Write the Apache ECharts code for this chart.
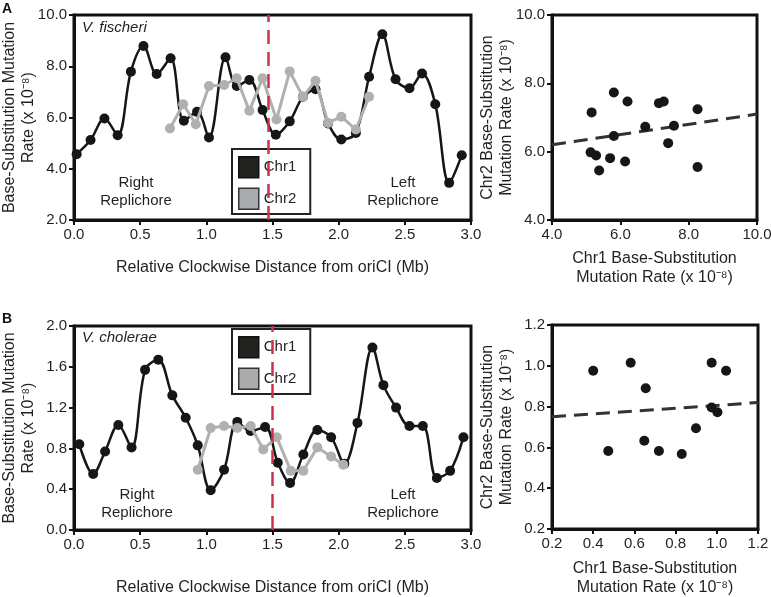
<!DOCTYPE html>
<html>
<head>
<meta charset="utf-8">
<script src="https://cdn.jsdelivr.net/npm/echarts@6/dist/echarts.min.js"></script>
<style>
html,body{margin:0;padding:0;background:#fff;}
#chart{width:771px;height:597px;}
</style>
</head>
<body>
<div id="chart"></div>
<script>
// ---------- Data ----------
const fischeriChr1Pos  = [0.02,0.125,0.23,0.33,0.43,0.525,0.625,0.73,0.83,0.93,1.02,1.145,1.23,1.325,1.425,1.525,1.63,1.73,1.825,1.92,2.02,2.13,2.23,2.33,2.43,2.535,2.63,2.73,2.835,2.93];
const fischeriChr1Rate = [4.57,5.12,5.96,5.31,7.79,8.79,7.70,8.31,5.87,6.22,5.22,8.35,7.23,7.46,6.29,5.33,5.85,6.81,7.10,5.77,5.14,5.40,7.59,9.25,7.49,7.14,7.72,6.52,3.45,4.53];
const fischeriChr2Pos  = [0.725,0.825,0.92,1.02,1.135,1.23,1.325,1.425,1.53,1.63,1.73,1.825,1.92,2.02,2.13,2.23];
const fischeriChr2Rate = [5.57,6.52,5.74,7.23,7.27,7.53,6.26,7.53,5.92,7.80,6.81,7.43,5.79,6.03,5.53,6.81];

const choleraeChr1Pos  = [0.04,0.145,0.235,0.335,0.435,0.537,0.637,0.743,0.844,0.935,1.033,1.134,1.234,1.335,1.444,1.54,1.633,1.733,1.839,1.943,2.043,2.142,2.255,2.338,2.434,2.535,2.636,2.742,2.842,2.943];
const choleraeChr1Rate = [0.84,0.55,0.77,1.03,0.81,1.57,1.67,1.32,1.10,0.83,0.39,0.59,1.06,0.97,1.01,0.66,0.46,0.74,0.98,0.91,0.65,1.05,1.79,1.42,1.20,1.02,1.02,0.51,0.58,0.91];
const choleraeChr2Pos  = [0.935,1.033,1.134,1.234,1.335,1.43,1.532,1.638,1.733,1.839,1.943,2.035];
const choleraeChr2Rate = [0.59,1.00,1.02,1.00,1.02,0.79,0.91,0.58,0.58,0.81,0.72,0.64];

const fischeriScatterChr1 = [5.16,5.13,5.29,5.38,5.70,5.81,5.81,6.14,6.21,6.73,7.13,7.27,7.40,7.57,8.26,8.26];
const fischeriScatterChr2 = [7.15,5.98,5.89,5.45,5.81,7.73,6.46,5.71,7.47,6.73,7.42,7.47,6.25,6.76,7.24,5.55];
const choleraeScatterChr1 = [0.40,0.473,0.582,0.655,0.648,0.719,0.83,0.899,0.975,0.975,1.003,1.045];
const choleraeScatterChr2 = [0.976,0.582,1.015,0.89,0.633,0.582,0.568,0.694,1.015,0.796,0.772,0.976];

const fischeriTrendX = [4.0, 10.0];
const fischeriTrendY = [6.2, 7.1];
const choleraeTrendX = [0.2, 1.2];
const choleraeTrendY = [0.75, 0.82];

const fischeriOriDivide = 1.47;
const choleraeOriDivide = 1.495;

// ---------- Helpers ----------
const zip = (a, b) => a.map((v, i) => [v, b[i]]);
const FONT = 'Liberation Sans, Arial, Helvetica, sans-serif';
const TXT = '#231f20';
const BLACK = '#161616';
const GRAY = '#b2b0ad';
const RED = '#d0304a';

function valueAxis(gridIndex, min, max, interval, extra) {
  return Object.assign({
    type: 'value', gridIndex, min, max, interval,
    axisLine: { show: true, onZero: false, lineStyle: { color: '#111', width: 3 } },
    axisTick: { show: true, length: 5, lineStyle: { color: '#111', width: 2 } },
    axisLabel: { color: TXT, fontSize: 15, fontFamily: FONT, margin: 7,
                 formatter: v => Number(v).toFixed(1) },
    splitLine: { show: false },
    nameLocation: 'middle',
    nameMoveOverlap: false,
    nameTextStyle: { color: TXT, fontSize: 16, fontFamily: FONT, lineHeight: 19 }
  }, extra || {});
}

const gridBase = { show: true, borderColor: '#111', borderWidth: 3, backgroundColor: 'transparent',
                   containLabel: false, outerBoundsMode: 'none' };

function legendAt(top) {
  return {
    orient: 'vertical', left: 232, top: top,
    icon: 'rect', itemWidth: 20, itemHeight: 21, itemGap: 9,
    padding: [7, 14, 4, 6],
    borderColor: '#222', borderWidth: 2, backgroundColor: 'transparent',
    textStyle: { color: TXT, fontSize: 15, fontFamily: FONT },
    selectedMode: false,
    data: [
      { name: 'Chr1', icon: 'rect', itemStyle: { color: '#22231f', borderColor: '#111', borderWidth: 1.5 } },
      { name: 'Chr2', icon: 'rect', itemStyle: { color: '#a9abac', borderColor: '#333', borderWidth: 1.5 } }
    ]
  };
}

function dividerLine(x) {
  return {
    silent: true, symbol: ['none', 'none'],
    label: { show: false },
    lineStyle: { color: RED, type: [14, 8], width: 2.5 },
    emphasis: { disabled: true },
    data: [{ xAxis: x }]
  };
}

const lineSeries = (name, xi, yi, pos, rate, color, smooth, width, z, mark) => ({
  name, type: 'line', xAxisIndex: xi, yAxisIndex: yi,
  data: zip(pos, rate), smooth: smooth,
  symbol: 'circle', symbolSize: 10, showSymbol: true,
  lineStyle: { color, width }, itemStyle: { color, opacity: 1 },
  emphasis: { disabled: true }, z,
  markLine: mark
});

const option = {
  animation: false,
  backgroundColor: '#fff',
  textStyle: { fontFamily: FONT },
  grid: [
    Object.assign({ left: 74, top: 15, width: 397, height: 205 }, gridBase),
    Object.assign({ left: 552, top: 15, width: 205, height: 205 }, gridBase),
    Object.assign({ left: 74, top: 326, width: 397, height: 204 }, gridBase),
    Object.assign({ left: 552, top: 325, width: 206, height: 204 }, gridBase)
  ],
  xAxis: [
    valueAxis(0, 0, 3, 0.5, { name: 'Relative Clockwise Distance from oriCI (Mb)', nameGap: 38 }),
    valueAxis(1, 4, 10, 2, { name: 'Chr1 Base-Substitution\nMutation Rate (x 10\u207B\u2078)', nameGap: 29 }),
    valueAxis(2, 0, 3, 0.5, { name: 'Relative Clockwise Distance from oriCI (Mb)', nameGap: 48 }),
    valueAxis(3, 0.2, 1.2, 0.2, { name: 'Chr1 Base-Substitution\nMutation Rate (x 10\u207B\u2078)', nameGap: 30 })
  ],
  yAxis: [
    valueAxis(0, 2, 10, 2, { name: 'Base-Substitution Mutation\nRate (x 10\u207B\u2078)', nameGap: 36 }),
    valueAxis(1, 4, 10, 2, { name: 'Chr2 Base-Substitution\nMutation Rate (x 10\u207B\u2078)', nameGap: 36 }),
    valueAxis(2, 0, 2, 0.4, { name: 'Base-Substitution Mutation\nRate (x 10\u207B\u2078)', nameGap: 36 }),
    valueAxis(3, 0.2, 1.2, 0.2, { name: 'Chr2 Base-Substitution\nMutation Rate (x 10\u207B\u2078)', nameGap: 36 })
  ],
  legend: [legendAt(149), legendAt(329)],
  series: [
    lineSeries('Chr1', 0, 0, fischeriChr1Pos, fischeriChr1Rate, BLACK, 0.35, 2.5, 3, dividerLine(fischeriOriDivide)),
    lineSeries('Chr2', 0, 0, fischeriChr2Pos, fischeriChr2Rate, GRAY, false, 3, 4),
    lineSeries('Chr1', 2, 2, choleraeChr1Pos, choleraeChr1Rate, BLACK, 0.35, 2.5, 3, dividerLine(choleraeOriDivide)),
    lineSeries('Chr2', 2, 2, choleraeChr2Pos, choleraeChr2Rate, GRAY, false, 3, 4),
    {
      name: 'V. fischeri Chr1 vs Chr2', type: 'scatter', xAxisIndex: 1, yAxisIndex: 1,
      data: zip(fischeriScatterChr1, fischeriScatterChr2), symbolSize: 10,
      itemStyle: { color: BLACK, opacity: 1 }, emphasis: { disabled: true }, z: 3
    },
    {
      name: 'V. fischeri trend', type: 'line', xAxisIndex: 1, yAxisIndex: 1,
      data: zip(fischeriTrendX, fischeriTrendY), showSymbol: false, symbol: 'none',
      lineStyle: { color: '#333', width: 3, type: [14, 8] }, emphasis: { disabled: true }, z: 2
    },
    {
      name: 'V. cholerae Chr1 vs Chr2', type: 'scatter', xAxisIndex: 3, yAxisIndex: 3,
      data: zip(choleraeScatterChr1, choleraeScatterChr2), symbolSize: 10,
      itemStyle: { color: BLACK, opacity: 1 }, emphasis: { disabled: true }, z: 3
    },
    {
      name: 'V. cholerae trend', type: 'line', xAxisIndex: 3, yAxisIndex: 3,
      data: zip(choleraeTrendX, choleraeTrendY), showSymbol: false, symbol: 'none',
      lineStyle: { color: '#333', width: 3, type: [14, 8] }, emphasis: { disabled: true }, z: 2
    }
  ],
  graphic: [
    { type: 'text', left: 2, top: 2, style: { text: 'A', font: 'bold 14px ' + FONT, fill: '#111' } },
    { type: 'text', left: 2, top: 312, style: { text: 'B', font: 'bold 14px ' + FONT, fill: '#111' } },
    { type: 'text', left: 82, top: 20, style: { text: 'V. fischeri', font: 'italic 15px ' + FONT, fill: TXT } },
    { type: 'text', left: 82, top: 330, style: { text: 'V. cholerae', font: 'italic 15px ' + FONT, fill: TXT } },
    { type: 'text', x: 136, y: 192, style: { text: 'Right\nReplichore', font: '15px ' + FONT, fill: TXT, align: 'center', verticalAlign: 'middle', lineHeight: 18 } },
    { type: 'text', x: 403, y: 192, style: { text: 'Left\nReplichore', font: '15px ' + FONT, fill: TXT, align: 'center', verticalAlign: 'middle', lineHeight: 18 } },
    { type: 'text', x: 137, y: 504, style: { text: 'Right\nReplichore', font: '15px ' + FONT, fill: TXT, align: 'center', verticalAlign: 'middle', lineHeight: 18 } },
    { type: 'text', x: 403, y: 504, style: { text: 'Left\nReplichore', font: '15px ' + FONT, fill: TXT, align: 'center', verticalAlign: 'middle', lineHeight: 18 } }
  ]
};

const chart = echarts.init(document.getElementById('chart'), null, { renderer: 'canvas' });
chart.setOption(option);
</script>
</body>
</html>
